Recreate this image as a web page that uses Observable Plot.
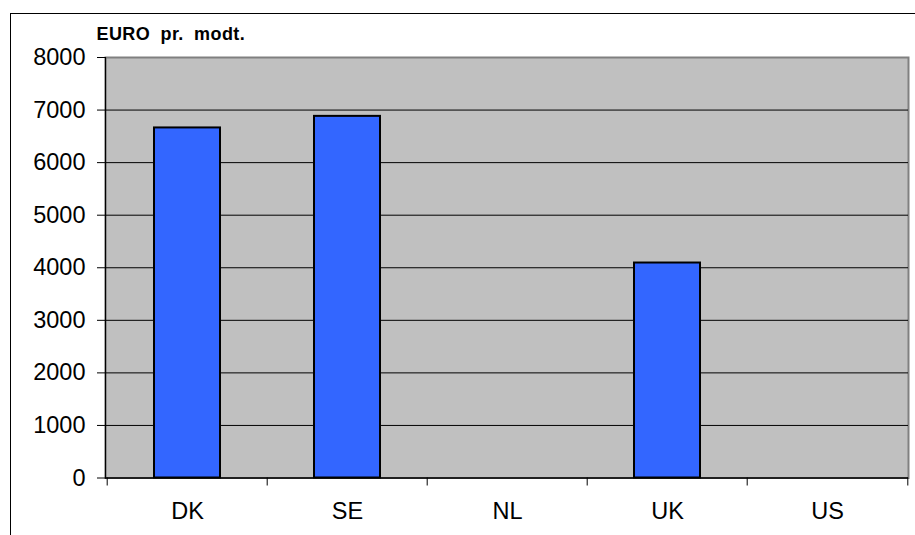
<!DOCTYPE html>
<html><head><meta charset="utf-8">
<script src="https://cdn.jsdelivr.net/npm/d3@7"></script>
<script src="https://cdn.jsdelivr.net/npm/@observablehq/plot@0.6"></script>
<style>
html,body{margin:0;padding:0;background:#fff;}
#wrap{position:relative;width:915px;height:535px;overflow:hidden;}
#border{position:absolute;left:9.5px;top:12.5px;width:930px;height:540px;border-left:1.5px solid #000;border-top:1.5px solid #000;pointer-events:none;}
.ttl text{letter-spacing:0.4px;word-spacing:5px;}
</style></head><body>
<div id="wrap"><div id="border"></div></div>
<script>
const countries = ["DK", "SE", "NL", "UK", "US"];
const euroPerRecipient = [6660, 6880, null, 4090, null];
const yTicks = [0, 1000, 2000, 3000, 4000, 5000, 6000, 7000, 8000];
const gridValues = [1000, 2000, 3000, 4000, 5000, 6000, 7000];
const titleText = "EURO pr. modt.";

const data = countries.map((c, i) => ({country: c, value: euroPerRecipient[i]}));

const W = 915, H = 535;
const mL = 105, mR = 7, mT = 57, mB = 57.5;
const step = (W - mL - mR) / countries.length;
const font = "'Liberation Sans', Arial, Helvetica, sans-serif";

const plot = Plot.plot({
  width: W, height: H,
  marginLeft: mL, marginRight: mR, marginTop: mT, marginBottom: mB,
  style: {fontFamily: font, background: "transparent", overflow: "visible"},
  x: {type: "band", domain: countries, paddingInner: 0, paddingOuter: 0, label: null},
  y: {domain: [0, 8000], label: null},
  marks: [
    Plot.frame({fill: "#C0C0C0", stroke: "#808080", strokeWidth: 2}),
    Plot.ruleY(gridValues, {stroke: "#000", strokeWidth: 1}),
    Plot.frame({anchor: "left", stroke: "#000", strokeWidth: 1.2}),
    Plot.ruleY([0], {stroke: "#000", strokeWidth: 1.5}),
    Plot.barY(data.filter(d => d.value != null), {
      x: "country", y: "value", fill: "#3366FF", stroke: "#000", strokeWidth: 2,
      insetLeft: 47, insetRight: 47
    }),
    Plot.axisY({ticks: yTicks, tickSize: 8, tickPadding: 12, fontSize: 23.5, tickFormat: d => String(d), stroke: "#000", color: "#000"}),
    Plot.axisX({tickSize: 0, tickPadding: 24, fontSize: 23.5, color: "#000"}),
    Plot.axisX({tickSize: 8, tickFormat: () => "", dx: -step / 2, stroke: "#000"}),
    Plot.axisX({ticks: [countries[countries.length - 1]], tickSize: 8, tickFormat: () => "", dx: step / 2, stroke: "#000"}),
    Plot.text([titleText], {
      frameAnchor: "top-left", dx: -9, dy: -18, lineAnchor: "bottom", textAnchor: "start",
      fontWeight: "bold", fontSize: 18, fill: "#000", className: "ttl"
    })
  ]
});
document.getElementById("wrap").prepend(plot);
</script>
</body></html>
